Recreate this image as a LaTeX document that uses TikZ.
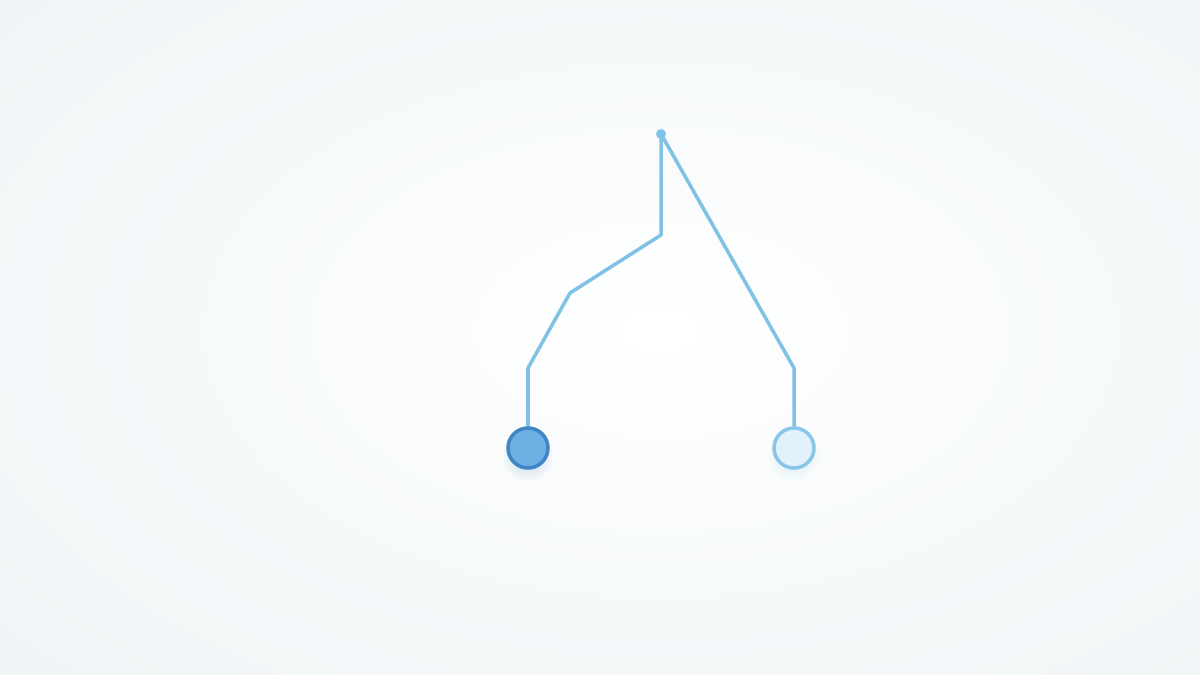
\documentclass[tikz,border=0pt]{standalone}
\usetikzlibrary{positioning,backgrounds}
\definecolor{wire}{HTML}{80C2E6}
\definecolor{onfill}{HTML}{6DAFE1}
\definecolor{online}{HTML}{3F86C4}
\definecolor{offfill}{HTML}{E2F2FC}
\definecolor{offline}{HTML}{88C7EA}
\definecolor{edgebg}{HTML}{EEF4F6}
\tikzset{
  WireStyle/.style = { draw=wire, line width=2pt,
                       line join=round, line cap=round },
  PortStyle/.style = { circle, inner sep=0pt, minimum size=0.8cm,
                       line width=2pt },
  PortOn/.style  = { PortStyle, fill=onfill, draw=online },
  PortOff/.style = { PortStyle, fill=offfill, draw=offline },
  RootStyle/.style = { circle, inner sep=0pt, minimum size=0.2cm,
                       fill=wire },
  GlowStyle/.style = { fill=#1, opacity=0.035 } }

\begin{document}
\begin{tikzpicture}[x=0.02cm,y=-0.02cm]
  \useasboundingbox (0,0) rectangle (1200,675);
  \node[RootStyle](ROOT) at (661,134) {};
  \node[PortOn](LEFT) at (528,448) {};
  \node[PortOff](RIGHT) at (794,448) {};
  \coordinate (L1) at (661,235);
  \coordinate (L2) at (570,293);
  \coordinate (L3) at (528,368);
  \coordinate (R1) at (794,368);

  \begin{scope}[on background layer]
    \shade[inner color=white, outer color=edgebg]
      (-250,-200) rectangle (1570,860);
    % soft shadows under the ports
    \foreach \r in {16,19,22,25} {
      \fill[GlowStyle=online] (528,456) circle (\r);
      \fill[GlowStyle=offline] (794,456) circle (\r);
    }
    \draw[WireStyle] (ROOT.center) -- (L1) -- (L2) -- (L3) -- (LEFT);
    \draw[WireStyle] (ROOT.center) -- (R1) -- (RIGHT);
  \end{scope}
\end{tikzpicture}
\end{document}
